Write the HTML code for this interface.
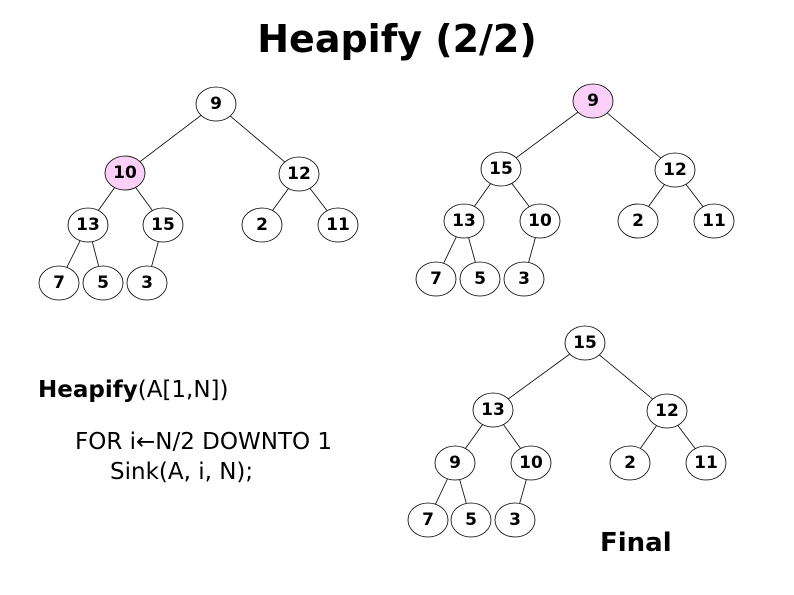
<!DOCTYPE html>
<html><head><meta charset="utf-8"><style>
body{margin:0;background:#fff;width:794px;height:595px;overflow:hidden}
svg{display:block}
text{font-family:"DejaVu Sans","Liberation Sans",sans-serif}
.n text{font-size:17px;font-weight:bold;text-anchor:middle;dominant-baseline:central}
ellipse{stroke:#000;stroke-width:0.8;fill:#fff}
line{stroke:#000;stroke-width:0.8}
</style></head><body>
<svg width="794" height="595" viewBox="0 0 794 595">
<text x="397" y="52" font-size="38" font-weight="bold" text-anchor="middle">Heapify (2/2)</text>
<!-- Tree 1 -->
<g>
<line x1="216" y1="104" x2="125" y2="173"/><line x1="216" y1="104" x2="299" y2="174"/>
<line x1="125" y1="173" x2="88" y2="225"/><line x1="125" y1="173" x2="163" y2="225"/>
<line x1="299" y1="174" x2="262" y2="225"/><line x1="299" y1="174" x2="338" y2="225"/>
<line x1="88" y1="225" x2="59" y2="283"/><line x1="88" y1="225" x2="103" y2="283"/>
<line x1="163" y1="225" x2="147" y2="283"/>
</g>
<g class="n">
<ellipse cx="216" cy="104" rx="20" ry="17"/><text x="216" y="104">9</text>
<ellipse cx="125" cy="173" rx="20" ry="17" style="fill:#fbd0f8"/><text x="125" y="173">10</text>
<ellipse cx="299" cy="174" rx="20" ry="17"/><text x="299" y="174">12</text>
<ellipse cx="88" cy="225" rx="20" ry="17"/><text x="88" y="225">13</text>
<ellipse cx="163" cy="225" rx="20" ry="17"/><text x="163" y="225">15</text>
<ellipse cx="262" cy="225" rx="20" ry="17"/><text x="262" y="225">2</text>
<ellipse cx="338" cy="225" rx="20" ry="17"/><text x="338" y="225">11</text>
<ellipse cx="59" cy="283" rx="20" ry="17"/><text x="59" y="283">7</text>
<ellipse cx="103" cy="283" rx="20" ry="17"/><text x="103" y="283">5</text>
<ellipse cx="147" cy="283" rx="20" ry="17"/><text x="147" y="283">3</text>
</g>
<!-- Tree 2 -->
<g>
<line x1="593" y1="101" x2="501" y2="169"/><line x1="593" y1="101" x2="675" y2="170"/>
<line x1="501" y1="169" x2="464" y2="221"/><line x1="501" y1="169" x2="540" y2="221"/>
<line x1="675" y1="170" x2="638" y2="221"/><line x1="675" y1="170" x2="714" y2="221"/>
<line x1="464" y1="221" x2="436" y2="279"/><line x1="464" y1="221" x2="480" y2="279"/>
<line x1="540" y1="221" x2="524" y2="279"/>
</g>
<g class="n">
<ellipse cx="593" cy="101" rx="20" ry="17" style="fill:#fbd0f8"/><text x="593" y="101">9</text>
<ellipse cx="501" cy="169" rx="20" ry="17"/><text x="501" y="169">15</text>
<ellipse cx="675" cy="170" rx="20" ry="17"/><text x="675" y="170">12</text>
<ellipse cx="464" cy="221" rx="20" ry="17"/><text x="464" y="221">13</text>
<ellipse cx="540" cy="221" rx="20" ry="17"/><text x="540" y="221">10</text>
<ellipse cx="638" cy="221" rx="20" ry="17"/><text x="638" y="221">2</text>
<ellipse cx="714" cy="221" rx="20" ry="17"/><text x="714" y="221">11</text>
<ellipse cx="436" cy="279" rx="20" ry="17"/><text x="436" y="279">7</text>
<ellipse cx="480" cy="279" rx="20" ry="17"/><text x="480" y="279">5</text>
<ellipse cx="524" cy="279" rx="20" ry="17"/><text x="524" y="279">3</text>
</g>
<!-- Tree 3 -->
<g>
<line x1="585" y1="343" x2="493" y2="410"/><line x1="585" y1="343" x2="667" y2="411"/>
<line x1="493" y1="410" x2="455" y2="463"/><line x1="493" y1="410" x2="531" y2="463"/>
<line x1="667" y1="411" x2="630" y2="463"/><line x1="667" y1="411" x2="706" y2="463"/>
<line x1="455" y1="463" x2="428" y2="520"/><line x1="455" y1="463" x2="471" y2="520"/>
<line x1="531" y1="463" x2="515" y2="520"/>
</g>
<g class="n">
<ellipse cx="585" cy="343" rx="20" ry="17"/><text x="585" y="343">15</text>
<ellipse cx="493" cy="410" rx="20" ry="17"/><text x="493" y="410">13</text>
<ellipse cx="667" cy="411" rx="20" ry="17"/><text x="667" y="411">12</text>
<ellipse cx="455" cy="463" rx="20" ry="17"/><text x="455" y="463">9</text>
<ellipse cx="531" cy="463" rx="20" ry="17"/><text x="531" y="463">10</text>
<ellipse cx="630" cy="463" rx="20" ry="17"/><text x="630" y="463">2</text>
<ellipse cx="706" cy="463" rx="20" ry="17"/><text x="706" y="463">11</text>
<ellipse cx="428" cy="520" rx="20" ry="17"/><text x="428" y="520">7</text>
<ellipse cx="471" cy="520" rx="20" ry="17"/><text x="471" y="520">5</text>
<ellipse cx="515" cy="520" rx="20" ry="17"/><text x="515" y="520">3</text>
</g>
<text x="600" y="551" font-size="26" font-weight="bold">Final</text>
<text x="38" y="397" font-size="23"><tspan font-weight="bold">Heapify</tspan>(A[1,N])</text>
<text x="75" y="449" font-size="23">FOR i←N/2 DOWNTO 1</text>
<text x="110" y="479" font-size="23">Sink(A, i, N);</text>
</svg>
</body></html>
